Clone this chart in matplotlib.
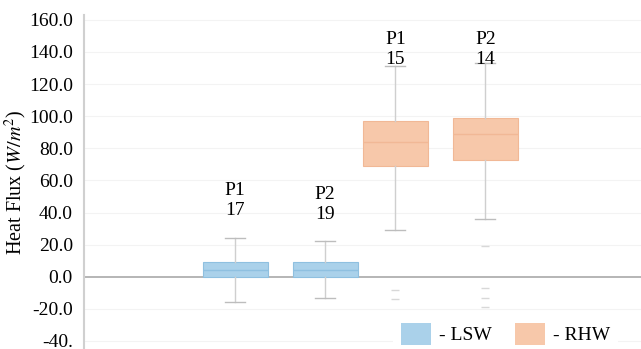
import numpy as np
import matplotlib
matplotlib.use('Agg')
from matplotlib import pyplot as plt
from matplotlib.patches import Patch

# box statistics (W/m^2)
labels = ['P1', 'P2', 'P1', 'P2']
counts = [17, 19, 15, 14]
groups = ['LSW', 'LSW', 'RHW', 'RHW']
q1 = [0.0, 0.0, 69.0, 73.0]
med = [4.5, 4.5, 84.0, 89.0]
q3 = [9.0, 9.0, 97.0, 99.0]
whislo = [-16.0, -13.0, 29.0, 36.0]
whishi = [24.0, 22.0, 131.0, 133.0]
fliers = [[], [], [-8.0, -14.0], [19.0, -7.0, -13.0, -19.0]]
label_y = [47.5, 45.0, 141.5, 141.5]
positions = [1.68, 2.68, 3.46, 4.46]

yticks = [160, 140, 120, 100, 80, 60, 40, 20, 0, -20, -40]
ytick_labels = ['160.0', '140.0', '120.0', '100.0', '80.0', '60.0', '40.0',
                '20.0', '0.0', '-20.0', '-40.']

colors = {'LSW': '#aad1ea', 'RHW': '#f7c8aa'}
edges = {'LSW': '#8fc0e0', 'RHW': '#f1b896'}

plt.rcParams['font.family'] = ['Liberation Serif', 'DejaVu Serif']
plt.rcParams['mathtext.fontset'] = 'stix'

fig = plt.figure(figsize=(6.41, 3.49), dpi=100)
ax = fig.add_axes([0.131, 0.0, 0.869, 0.957])

stats = []
for i in range(len(labels)):
    stats.append(dict(q1=q1[i], med=med[i], q3=q3[i], whislo=whislo[i],
                      whishi=whishi[i], fliers=fliers[i]))

bp = ax.bxp(stats, positions=positions, widths=0.72, patch_artist=True,
            showfliers=True,
            whiskerprops=dict(color='#cfcfcf', lw=1.0),
            capprops=dict(color='#bdbdbd', lw=1.0),
            flierprops=dict(marker='_', markeredgecolor='#d8d8d8', markersize=6),
            medianprops=dict(lw=1.0))
for i, box in enumerate(bp['boxes']):
    box.set_facecolor(colors[groups[i]])
    box.set_edgecolor(edges[groups[i]])
    box.set_linewidth(0.8)
    bp['medians'][i].set_color(edges[groups[i]])
for cap in bp['caps']:
    x0, x1 = cap.get_xdata()
    c = (x0 + x1) / 2
    cap.set_xdata([c - 0.11, c + 0.11])

# group label and count above each box
for i in range(len(labels)):
    ax.text(positions[i], label_y[i], labels[i] + '\n' + str(counts[i]),
            ha='center', va='center', fontsize=14, linespacing=1.2)

ax.axhline(0, color='#b5b5b5', lw=1.4, zorder=0.5)
for y in yticks:
    if y != 0:
        ax.axhline(y, color='#f3f3f3', lw=0.8, zorder=0)

ax.set_xlim(0, 6.19)
ax.set_ylim(-45, 163)
ax.set_yticks(yticks)
ax.set_yticklabels(ytick_labels)
ax.set_xticks([])
ax.tick_params(axis='y', length=0, pad=8, labelsize=14)
for s in ['top', 'right', 'bottom']:
    ax.spines[s].set_visible(False)
ax.spines['left'].set_color('#d0d0d0')
ax.spines['left'].set_linewidth(1.5)
ax.set_ylabel('Heat Flux ($W/m^2$)', fontsize=14.5, va='center')
ax.yaxis.set_label_coords(-0.123, 0.5)

handles = [Patch(facecolor=colors['LSW'], edgecolor='none', label='- LSW'),
           Patch(facecolor=colors['RHW'], edgecolor='none', label='- RHW')]
ax.legend(handles=handles, loc='lower right', ncol=2, frameon=True,
          facecolor='white', edgecolor='none', framealpha=1,
          fontsize=14, handlelength=1.55, handleheight=1.3, handletextpad=0.4,
          columnspacing=1.2, borderaxespad=0.0, bbox_to_anchor=(0.958, -0.01))

fig.savefig('out.png', dpi=100)
